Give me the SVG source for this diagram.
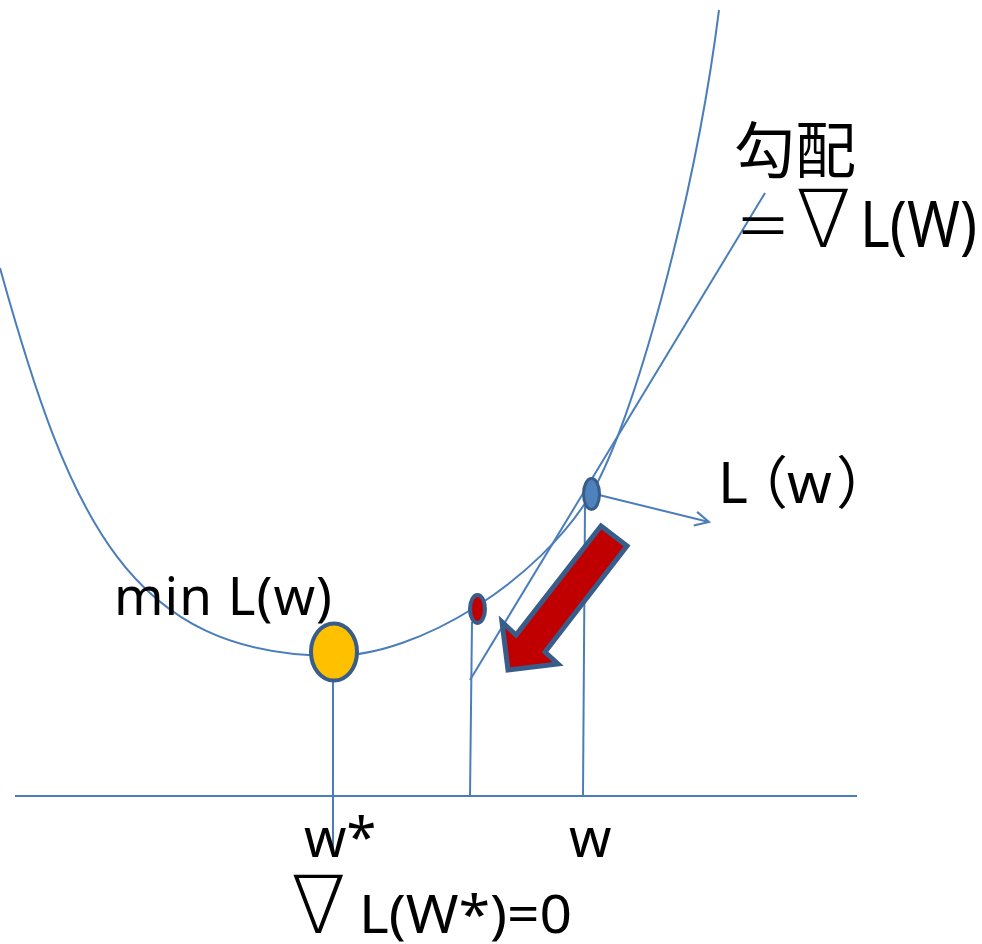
<svg xmlns="http://www.w3.org/2000/svg" width="982" height="944" viewBox="0 0 982 944">
<style>
.ln{fill:none;stroke:#4A7EBB;stroke-width:2}
.t{font-family:"Noto Sans","Noto Sans CJK JP",sans-serif;fill:#000}
.cjk{font-family:"Noto Sans CJK JP",sans-serif}
.nab{font-family:"DejaVu Sans",sans-serif;font-weight:200}
.dot{stroke:#385D8A}
</style>
<defs>
<marker id="open" viewBox="0 0 20 20" refX="18" refY="10" markerWidth="20" markerHeight="20" markerUnits="userSpaceOnUse" orient="auto">
<path d="M4,3 L18,10 L4,17" fill="none" stroke="#4A7EBB" stroke-width="2"/>
</marker>
</defs>
<rect width="982" height="944" fill="#fff"/>
<g id="connectors">
<path id="curve" class="ln" d="M0,268 C70,520 130,655 333,656 C420,656 539,580 591,494 C633,424 695,200 719,10"/>
<line id="axis" class="ln" x1="15" y1="796" x2="857" y2="796" stroke-width="2.5"/>
<line id="tangent" class="ln" x1="470" y1="680" x2="765" y2="193"/>
<line class="ln" x1="333" y1="682" x2="333" y2="857"/>
<line class="ln" x1="472" y1="622" x2="470" y2="796"/>
<line class="ln" x1="585" y1="505" x2="583" y2="796"/>
<line id="grad-arrow" class="ln" x1="599" y1="495" x2="709" y2="522" marker-end="url(#open)"/>
</g>
<g id="min-point"><ellipse class="dot" cx="334" cy="652" rx="23" ry="28.5" fill="#FFC000" stroke-width="4"/></g>
<g id="mid-point"><ellipse class="dot" cx="477.5" cy="609" rx="7.5" ry="14" fill="#C00000" stroke-width="4"/></g>
<g id="w-point"><ellipse class="dot" cx="591.5" cy="494" rx="8" ry="15.5" fill="#4F81BD" stroke-width="3"/></g>
<g id="descent-arrow">
<polygon points="601,526 627,546 545,652 558,664 508,670 502,622 516,635" fill="#C00000" stroke="#385D8A" stroke-width="5" stroke-linejoin="miter"/>
</g>
<g id="labels">
<text class="t" x="734" y="173" font-size="61">勾配</text>
<text class="t" y="247" font-size="60"><tspan class="cjk" x="735" font-size="56">＝</tspan><tspan class="nab" x="796" font-size="80">∇</tspan><tspan x="860" font-size="63" textLength="117" lengthAdjust="spacingAndGlyphs">L(W)</tspan></text>
<text class="t" y="503" font-size="57"><tspan x="718">L</tspan><tspan class="cjk" x="731">（</tspan><tspan x="787">w</tspan><tspan class="cjk" x="836">）</tspan></text>
<text class="t" x="114" y="615" font-size="53" textLength="218">min L(w)</text>
<text class="t" x="304" y="857" font-size="54">w*</text>
<text class="t" x="569" y="857" font-size="54">w</text>
<text class="t" y="933" font-size="52"><tspan class="nab" x="291" font-size="80">∇</tspan><tspan x="359" textLength="213" lengthAdjust="spacingAndGlyphs">L(W*)=0</tspan></text>
</g>
</svg>
